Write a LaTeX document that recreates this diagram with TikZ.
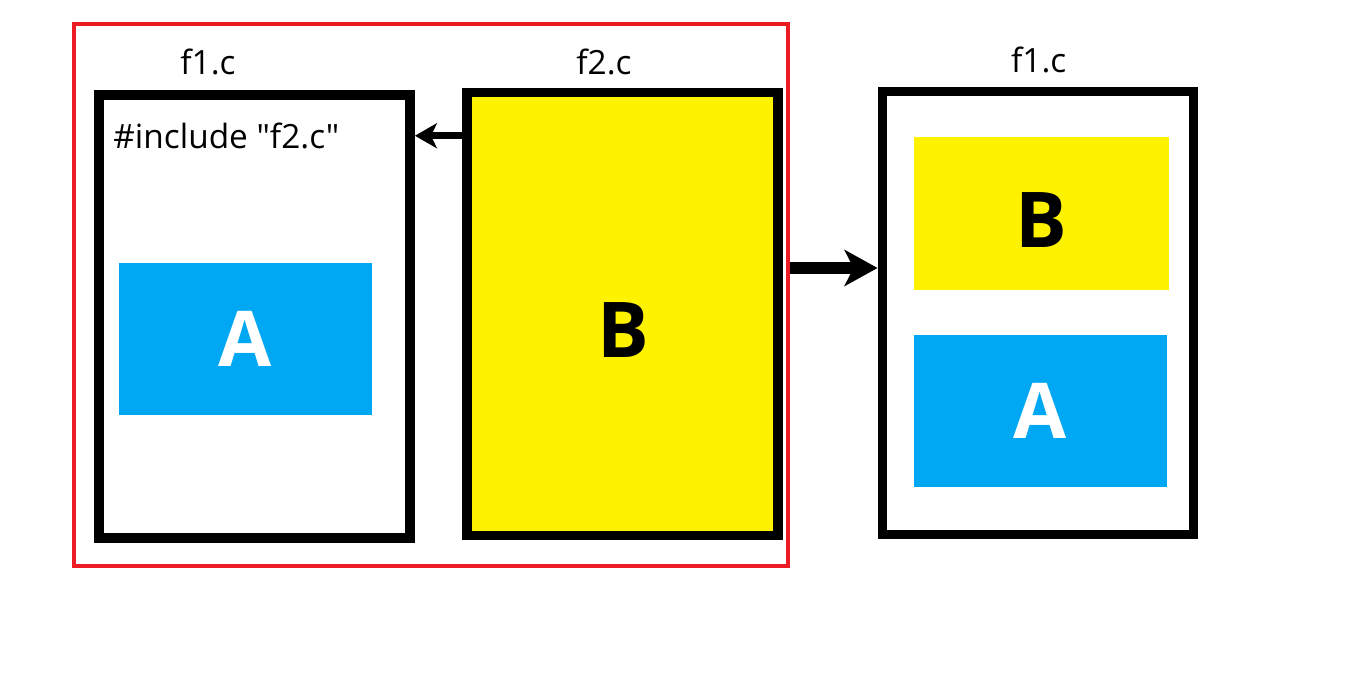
\documentclass[tikz,border=0pt]{standalone}
\usepackage{fontspec}
\setmainfont{Open Sans}
\newfontfamily\labelfont{Open Sans}
\usetikzlibrary{arrows.meta,positioning}
\definecolor{fileyellow}{RGB}{255,242,0}
\definecolor{fileblue}{RGB}{0,168,243}
\definecolor{groupred}{RGB}{237,28,36}
\tikzset{
  file box/.style={
    draw=black,
    line width=2.8pt,
    minimum width=3.11cm,
    minimum height=4.43cm,
    inner sep=0pt,
  },
  part box/.style={
    inner sep=0pt,
    minimum width=2.53cm,
    minimum height=1.52cm,
    font=\fontsize{21.9}{24}\selectfont\bfseries,
  },
  file label/.style={
    inner sep=0pt,
    font=\labelfont\fontsize{9.5}{11}\selectfont,
  },
  file arrow/.style={
    -{Stealth[length=3.3mm,width=3.6mm,inset=0.9mm]},
    line width=3.4pt,
  },
}

\begin{document}
\begin{tikzpicture}[x=1cm,y=-1cm]
  \useasboundingbox (0,0) rectangle (13.5,6.79);
  \tikzstyle{include arrow}=[-{Stealth[length=2.2mm,width=2.5mm,inset=0.6mm]}, line width=1.9pt]

  % group of the two source files
  \node[draw=groupred, line width=1pt, minimum width=7.14cm, minimum height=5.42cm] (group) at (4.31,2.95) {};

  \node[file box] (f1box) at (2.545,3.164) {};
  \node[file box, fill=fileyellow, line width=2.6pt] (f2box) at (6.225,3.138) {};
  \node[file label, anchor=base] (f1label) at (2.08,0.743) {f1.c};
  \node[file label, anchor=base] (f2label) at (6.04,0.743) {f2.c};
  \node[file label, anchor=base west] (incltext) at (1.127,1.483) {\#include "f2.c"};

  \node[part box, fill=fileblue, text=white] (partA) at (2.455,3.389) {A};
  \node[part box, font=\fontsize{21.9}{24}\selectfont\bfseries] (partB) at (6.23,3.303) {B};

  \draw[include arrow] (f2box.west |- incltext) -- (f1box.east |- incltext);

  % merged file
  \node[file box] (mergedbox) at (10.38,3.13) {};
  \node[file label, anchor=base] (mergedlabel) at (10.387,0.723) {f1.c};
  \node[part box, fill=fileyellow, minimum width=2.55cm, minimum height=1.53cm, text height=6.9mm] (mergedB) at (10.415,2.135) {B};
  \node[part box, fill=fileblue, text=white] (mergedA) at (10.405,4.108) {A};

  \coordinate (mergelevel) at (8.3,2.68);
  \draw[file arrow] (group.east |- mergelevel) -- (mergedbox.west |- mergelevel);
\end{tikzpicture}
\end{document}
